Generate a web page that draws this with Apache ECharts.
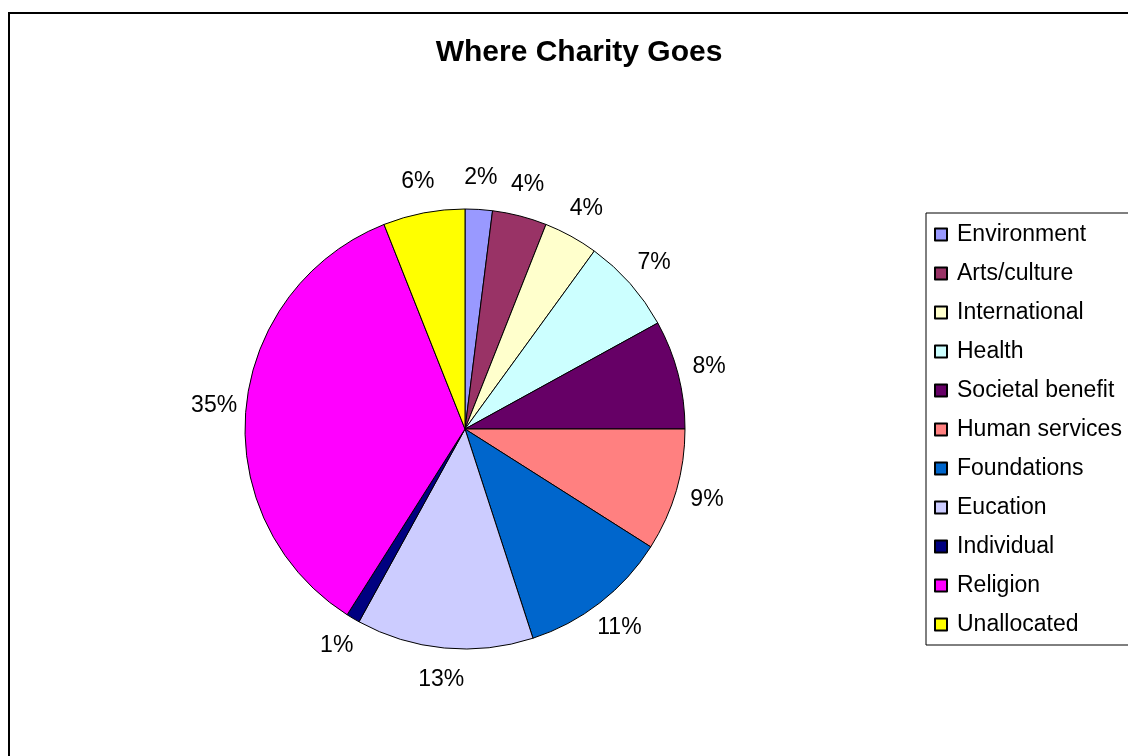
<!DOCTYPE html>
<html>
<head>
<meta charset="utf-8">
<script src="https://cdn.jsdelivr.net/npm/echarts@6/dist/echarts.min.js"></script>
<style>
  html, body { margin: 0; padding: 0; background: #fff; }
  #chart { width: 1128px; height: 756px; }
</style>
</head>
<body>
<div id="chart"></div>
<script>
// Slices, clockwise from 12 o'clock
const categories = ['Environment', 'Arts/culture', 'International', 'Health', 'Societal benefit',
  'Human services', 'Foundations', 'Eucation', 'Individual', 'Religion', 'Unallocated'];
const shares = [2, 4, 4, 7, 8, 9, 11, 13, 1, 35, 6];
const colors = ['#9999FF', '#993366', '#FFFFCC', '#CCFFFF', '#660066',
  '#FF8080', '#0066CC', '#CCCCFF', '#000080', '#FF00FF', '#FFFF00'];

const font = '"Liberation Sans", Arial, sans-serif';
const chart = echarts.init(document.getElementById('chart'));

chart.setOption({
  animation: false,
  color: colors,
  title: {
    text: 'Where Charity Goes',
    left: 574,
    textAlign: 'center',
    top: 33,
    textStyle: { fontFamily: font, fontSize: 30, fontWeight: 'bold', color: '#000' },
  },
  // outer frame of the chart area
  graphic: [{
    type: 'rect',
    shape: { x: 9, y: 13, width: 1200, height: 800 },
    style: { fill: 'none', stroke: '#000', lineWidth: 2 },
    silent: true,
  }],
  legend: {
    orient: 'vertical',
    left: 926,
    top: 213,
    padding: [10, 20, 9, 8],
    itemGap: 16,
    itemWidth: 12,
    itemHeight: 12,
    icon: 'rect',
    borderColor: '#000',
    borderWidth: 1,
    selectedMode: false,
    data: categories,
    textStyle: { fontFamily: font, fontSize: 23, color: '#000', padding: [0, 0, 0, 5] },
  },
  series: [{
    type: 'pie',
    center: [465, 429],
    radius: 220,
    startAngle: 90,
    clockwise: true,
    avoidLabelOverlap: false,
    emphasis: { disabled: true },
    itemStyle: { borderColor: '#000', borderWidth: 1 },
    label: {
      show: true,
      position: 'outside',
      distanceToLabelLine: 0,
      formatter: p => shares[p.dataIndex] + '%',
      fontFamily: font,
      fontSize: 23,
      color: '#000',
    },
    labelLine: { show: false, length: 32, length2: 0 },
    // centre each label on the end of its (hidden) leader
    labelLayout: () => ({ align: 'center', verticalAlign: 'middle' }),
    data: categories.map((name, i) => ({ name, value: shares[i] })),
  }],
});
</script>
</body>
</html>
